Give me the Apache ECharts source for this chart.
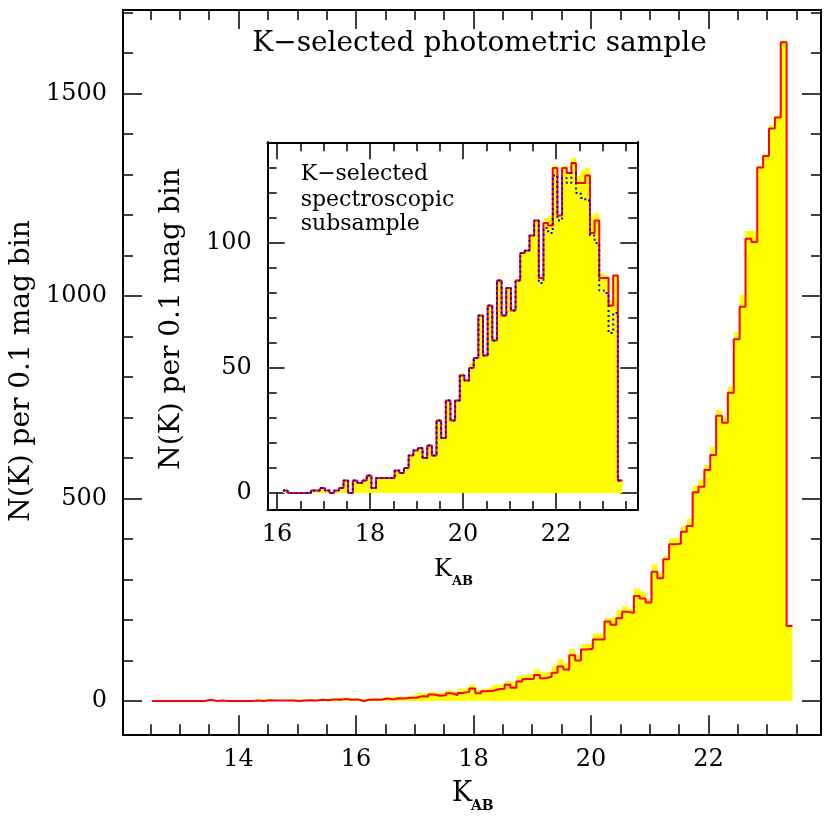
<!DOCTYPE html>
<html>
<head>
<meta charset="utf-8">
<title>K-selected photometric sample</title>
<script src="https://cdn.jsdelivr.net/npm/echarts@6/dist/echarts.min.js"></script>
<style>
html, body { margin: 0; padding: 0; background: #fff; }
#chart { width: 831px; height: 819px; }
</style>
</head>
<body>
<div id="chart"></div>
<script>
// bins of 0.1 mag, left edges start at these values
var binWidth = 0.1;
var mainBinStart = 12.53;
var insetBinStart = 16.13;

// main panel: yellow = filled histogram, red = outline histogram
var mainRed = [
	0, 0, 0, 0, 0, 0, 0, 0, 0, 3,
	0, 1, 0, 0, 0, 0, 0, 1, 0, 2,
	1, 1, 1, 1, 0, 1, 2, 1, 3, 2,
	4, 3, 5, 3, 4, 0, 3, 4, 3, 6,
	4, 7, 6, 8, 8, 12, 11, 16, 13, 14,
	19, 15, 20, 23, 31, 19, 24, 25, 29, 30,
	40, 33, 48, 54, 54, 64, 56, 60, 70, 85,
	78, 113, 100, 127, 129, 152, 152, 196, 188, 204,
	220, 217, 259, 253, 243, 319, 303, 350, 387, 388,
	418, 432, 515, 529, 570, 607, 704, 687, 761, 893,
	973, 1141, 1133, 1317, 1345, 1413, 1440, 1626, 185
];
var mainYellow = [
	1, 1, 0, 1, 1, 1, 0, 1, 1, 4,
	1, 2, 1, 1, 1, 2, 2, 3, 4, 5,
	3, 2, 4, 3, 3, 3, 4, 3, 5, 4,
	8, 6, 9, 6, 7, 3, 6, 7, 6, 10,
	9, 12, 10, 13, 15, 20, 16, 23, 19, 21,
	27, 22, 30, 33, 40, 28, 31, 35, 40, 39,
	48, 44, 62, 66, 67, 78, 70, 74, 86, 103,
	93, 128, 114, 140, 142, 166, 168, 204, 208, 225,
	234, 228, 278, 270, 252, 336, 316, 358, 402, 402,
	432, 449, 531, 547, 583, 628, 718, 700, 776, 910,
	1002, 1160, 1160, 1322, 1350, 1422, 1446, 1630, 185
];

// inset: yellow = filled, red = solid outline, blue = dotted outline
var insetRed = [
	1, 0, 0, 0, 0, 0, 1, 1, 2, 1,
	0, 1, 2, 5, 0, 5, 4, 5, 7, 2,
	6, 6, 6, 6, 9, 8, 10, 15, 17, 18,
	14, 19, 15, 29, 22, 37, 29, 37, 47, 45,
	50, 54, 71, 55, 75, 61, 85, 71, 82, 73,
	85, 96, 97, 103, 109, 86, 108, 107, 130, 111,
	130, 128, 132, 124, 124, 127, 104, 109, 86, 86,
	75, 87, 5
];
var insetBlue = [
	1, 0, 0, 0, 0, 0, 1, 1, 2, 1,
	0, 1, 2, 5, 0, 5, 4, 5, 7, 2,
	6, 6, 6, 6, 9, 8, 10, 15, 17, 18,
	14, 19, 15, 29, 22, 37, 29, 37, 47, 45,
	50, 54, 71, 55, 75, 61, 85, 71, 82, 73,
	85, 96, 97, 103, 109, 84, 106, 104, 127, 109,
	126, 124, 128, 120, 118, 117, 103, 100, 81, 80,
	64, 72, 5
];
var insetYellow = [
	1, 0, 0, 0, 0, 0, 1, 1, 2, 1,
	0, 1, 2, 5, 0, 5, 4, 5, 7, 2,
	6, 6, 6, 6, 9, 8, 10, 15, 17, 18,
	14, 19, 15, 29, 22, 37, 29, 37, 48, 45,
	52, 54, 71, 55, 75, 61, 85, 71, 82, 73,
	85, 96, 97, 103, 109, 86, 110, 111, 131, 111,
	131, 128, 134, 127, 129, 130, 111, 112, 88, 87,
	77, 87, 5
];

// tick positions
var mainXMajor = [14, 16, 18, 20, 22];
var mainXMinor = [12.5, 13, 13.5, 14, 14.5, 15, 15.5, 16, 16.5, 17, 17.5, 18, 18.5, 19, 19.5, 20, 20.5, 21, 21.5, 22, 22.5, 23, 23.5];
var mainYMajor = [0, 500, 1000, 1500];
var mainYMinor = [0, 100, 200, 300, 400, 500, 600, 700, 800, 900, 1000, 1100, 1200, 1300, 1400, 1500, 1600, 1700];
var insetXMajor = [16, 18, 20, 22];
var insetXMinor = [16, 16.5, 17, 17.5, 18, 18.5, 19, 19.5, 20, 20.5, 21, 21.5, 22, 22.5, 23, 23.5];
var insetYMajor = [0, 50, 100];
var insetYMinor = [0, 10, 20, 30, 40, 50, 60, 70, 80, 90, 100, 110, 120, 130, 140];

var FONT = 'DejaVu Serif';

//直方图阶梯点
function steps(start, vals) {
	var pts = [];
	for(var i = 0; i < vals.length; i++) {
		pts.push([+(start + i * binWidth).toFixed(2), vals[i]]);
	}
	pts.push([+(start + vals.length * binWidth).toFixed(2), vals[vals.length - 1]]);
	return pts;
}

function axis(grid, pos, min, max, ticks, len, labels, margin) {
	return {
		type: 'value',
		gridIndex: grid,
		position: pos,
		min: min,
		max: max,
		axisLine: { show: true, onZero: false, lineStyle: { color: '#000', width: 2 } },
		axisTick: { show: true, inside: true, length: len, customValues: ticks, lineStyle: { color: '#000', width: 1.5 } },
		axisLabel: labels ? {
			show: true, customValues: labels, margin: margin,
			formatter: function(v) { return String(v); },
			fontFamily: FONT, fontSize: 24, color: '#000'
		} : { show: false },
		splitLine: { show: false },
		minorTick: { show: false }
	};
}

var mx = [12.034, 23.915], my = [-82.2, 1705.6];
var ix = [15.8, 23.748], iy = [-6.84, 140.24];

var xAxes = [
	axis(0, 'bottom', mx[0], mx[1], mainXMajor, 19, mainXMajor, 13),
	axis(0, 'bottom', mx[0], mx[1], mainXMinor, 10),
	axis(0, 'top', mx[0], mx[1], mainXMajor, 19),
	axis(0, 'top', mx[0], mx[1], mainXMinor, 10),
	axis(1, 'bottom', ix[0], ix[1], insetXMajor, 17, insetXMajor, 13),
	axis(1, 'bottom', ix[0], ix[1], insetXMinor, 9),
	axis(1, 'top', ix[0], ix[1], insetXMajor, 17),
	axis(1, 'top', ix[0], ix[1], insetXMinor, 9)
];
var yAxes = [
	axis(0, 'left', my[0], my[1], mainYMajor, 19, mainYMajor, 16),
	axis(0, 'left', my[0], my[1], mainYMinor, 10),
	axis(0, 'right', my[0], my[1], mainYMajor, 19),
	axis(0, 'right', my[0], my[1], mainYMinor, 10),
	axis(1, 'left', iy[0], iy[1], insetYMajor, 17, insetYMajor, 16),
	axis(1, 'left', iy[0], iy[1], insetYMinor, 9),
	axis(1, 'right', iy[0], iy[1], insetYMajor, 17),
	axis(1, 'right', iy[0], iy[1], insetYMinor, 9)
];

function fill(data, xi, yi) {
	return {
		type: 'line', step: 'end', xAxisIndex: xi, yAxisIndex: yi,
		data: data, symbol: 'none', silent: true,
		lineStyle: { width: 0 },
		areaStyle: { color: '#ffff00', opacity: 1 }
	};
}

function outline(data, xi, yi, color, dash) {
	return {
		type: 'line', step: 'end', xAxisIndex: xi, yAxisIndex: yi,
		data: data, symbol: 'none', silent: true,
		lineStyle: { color: color, width: 2, type: dash || 'solid' }
	};
}

function txt(x, y, s, size, opt) {
	opt = opt || {};
	return {
		type: 'text', x: x, y: y, rotation: opt.rot || 0, z: 100,
		style: {
			text: s, fill: '#000',
			font: (opt.bold ? 'bold ' : '') + size + 'px "' + FONT + '"',
			align: opt.align || 'center', verticalAlign: 'middle'
		}
	};
}

var option = {
	animation: false,
	backgroundColor: '#fff',
	grid: [
		{ left: 123, right: 10, top: 10, bottom: 84.7 },
		{ left: 267.7, right: 193.7, top: 142.3, bottom: 309, show: true, backgroundColor: '#fff', borderWidth: 0 }
	],
	xAxis: xAxes,
	yAxis: yAxes,
	series: [
		fill(steps(mainBinStart, mainYellow), 0, 0),
		outline(steps(mainBinStart, mainRed), 0, 0, '#ff0000'),
		fill(steps(insetBinStart, insetYellow), 4, 4),
		outline(steps(insetBinStart, insetRed), 4, 4, '#ff0000'),
		outline(steps(insetBinStart, insetBlue), 4, 4, '#0000ff', [2, 3])
	],
	graphic: [
		txt(479.5, 44, 'K\u2212selected photometric sample', 28),
		txt(22, 371, 'N(K) per 0.1 mag bin', 28, { rot: Math.PI / 2 }),
		txt(172, 319, 'N(K) per 0.1 mag bin', 28, { rot: Math.PI / 2 }),
		txt(462, 794, 'K', 27),
		txt(471, 806, 'AB', 14, { bold: true, align: 'left' }),
		txt(443, 570, 'K', 24),
		txt(452, 582, 'AB', 13, { bold: true, align: 'left' }),
		txt(300.7, 174, 'K\u2212selected', 22, { align: 'left' }),
		txt(300.7, 200, 'spectroscopic', 22, { align: 'left' }),
		txt(300.7, 224, 'subsample', 22, { align: 'left' })
	]
};

var chart = echarts.init(document.getElementById('chart'), null, { renderer: 'canvas' });
chart.setOption(option);
</script>
</body>
</html>
